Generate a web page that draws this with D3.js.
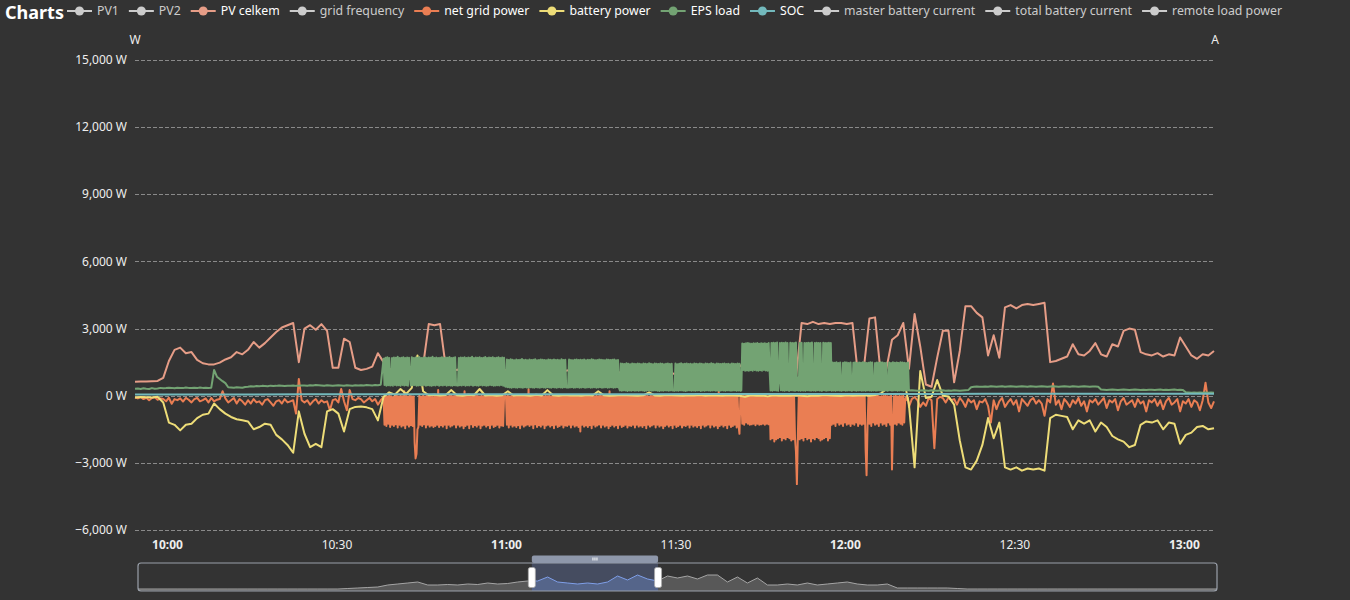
<!DOCTYPE html>
<html>
<head>
<meta charset="utf-8">
<script src="https://cdn.jsdelivr.net/npm/d3@7"></script>
<style>
	html, body { margin: 0; padding: 0; background: #333; }
	svg { display: block; font-family: "Noto Sans", sans-serif; }
</style>
</head>
<body>
<svg id="chart" width="1350" height="600"></svg>
<script>
(function() {
	"use strict"

	var startTime = new Date(2024, 0, 1, 9, 54, 20),
		burstStart = new Date(2024, 0, 1, 10, 38, 20),
		lateStart = new Date(2024, 0, 1, 12, 11, 50),
		endTime = new Date(2024, 0, 1, 13, 5, 20);

	var legendNames = ["PV1", "PV2", "PV celkem", "grid frequency", "net grid power", "battery power", "EPS load", "SOC", "master battery current", "total battery current", "remote load power"],
		legendColors = ["#dd6b66", "#759aa0", "#e69d87", "#8dc1a9", "#ea7e53", "#eedd78", "#73a373", "#73b9bc", "#7289ab", "#91ca8c", "#f49f42"],
		legendActive = [false, false, true, false, true, true, true, true, false, false, false];

	var yTicks = [-6000, -3000, 0, 3000, 6000, 9000, 12000, 15000],
		xTickLabels = ["10:00", "10:30", "11:00", "11:30", "12:00", "12:30", "13:00"];

	// one sample per minute from startTime
	var pvCelkem = [
		620, 630, 640, 650, 660, 800, 1550, 2050, 2150, 1900,
		1950, 1600, 1450, 1400, 1400, 1480, 1620, 1720, 1950, 1850,
		2050, 2400, 2150, 2350, 2600, 2850, 3050, 3150, 3250, 1500,
		3000, 3150, 2950, 3200, 2900, 1250, 1250, 2550, 2400, 1250,
		1150, 1200, 1300, 1900, 1500, 1200, 1150, 1250, 1200, 1300,
		1250, 1350, 3200, 3150, 3200, 1300, 1200, 1150, 1250, 1200,
		1150, 1200, 1250, 1100, 1150, 1200, 1100, 1150, 1100, 1200,
		1150, 1100, 1200, 1150, 1100, 1050, 1100, 1150, 1100, 1050,
		1100, 1050, 1000, 1050, 1100, 1000, 1050, 1000, 950, 1000,
		1050, 1000, 950, 1000, 1050, 1000, 950, 1000, 1050, 1000,
		950, 1000, 1050, 1000, 950, 1000, 1050,
		1300, 1500, 1550, 1500, 1450, 1500, 900, 800, 850, 800,
		800, 3250, 3200, 3300, 3200, 3250, 3200, 3250, 3250, 3200,
		3250, 900, 1200, 3450, 3500, 1000, 1200, 2500, 2700, 3250,
		1200, 3650, 2200, 500, 400, 1700, 2900, 2900, 600, 2000,
		4000, 4000, 3700, 3500, 1800, 2700, 1700, 3950, 4050, 3900,
		4050, 4100, 4050, 4100, 4150, 1500, 1550, 1650, 1750, 2300,
		1850, 1800, 2000, 2350, 1850, 1750, 2300, 2200, 2900, 3000,
		2950, 1950, 1850, 1800, 1900, 1750, 1850, 1800, 2600, 2200,
		1800, 1650, 1850, 1800, 2000
	];

	var batteryPower = [
		-80, -60, -70, -80, -50, -300, -1200, -1300, -1550, -1300,
		-1250, -1000, -850, -800, -350, -600, -800, -950, -1050, -1100,
		-1150, -1500, -1400, -1250, -1300, -1750, -1950, -2200, -2550, -700,
		-1700, -2300, -2150, -2300, -700, -600, -800, -1600, -600, -500,
		-480, -520, -600, -1100, -50, 150, 50, 300, 80, 350,
		1800, 200, 20, 40, 10, 30, 250, 20, 0, 40,
		20, 300, 10, 30, 0, 20, 200, 10, 30, 20,
		0, 40, 10, 250, 20, 0, 30, 10, 20, 0,
		30, 10, 200, 20, 0, 10, 30, 20, 10, 0,
		20, 150, 10, 0, 30, 20, 10, 0, 20, 10,
		30, 0, 20, 10, 0, 20, 10,
		0, -50, 20, 0, 10, -30, 20, 0, 10, 0,
		20, 0, -20, 10, 0, 30, 10, 0, -10, 20,
		0, 10, 20, 0, 30, 100, 300, 800, 1450, 900,
		-400, -3200, 1100, -100, -50, 700, 0, -30, -400, -2000,
		-3200, -3300, -2900, -2200, -1000, -1900, -1200, -3200, -3300, -3200,
		-3350, -3250, -3300, -3250, -3350, -1000, -850, -900, -950, -1500,
		-1100, -1250, -1100, -1600, -1200, -1400, -1800, -1950, -2050, -2300,
		-2200, -1300, -1150, -1200, -1100, -1500, -1200, -1250, -2150, -1750,
		-1650, -1400, -1350, -1500, -1450
	];

	// EPS load: 30 s samples before the burst, 10 s during it, 30 s after
	var epsLoadEarly = [
		310, 320, 300, 330, 310, 300, 340, 310, 320, 350, 330, 340, 360, 350, 330, 360, 350, 340, 370, 350,
		350, 360, 340, 370, 350, 360, 340, 360, 1150, 850, 750, 650, 560, 380, 370, 360, 380, 370, 360, 390,
		400, 420, 410, 430, 420, 440, 430, 420, 450, 430, 440, 460, 450, 430, 440, 450, 460, 440, 450, 460,
		460, 450, 470, 460, 480, 470, 460, 450, 470, 460, 450, 460, 470, 460, 450, 470, 460, 450, 470, 460,
		470, 460, 480, 470, 460, 480, 470, 490
	];
	var epsLoadBurst = [
		1650, 480, 1700, 450, 1720, 470, 1690, 460, 470, 1680, 450, 1710, 480, 1700, 460, 1740, 470, 1690, 450, 1700, 480, 1720, 460, 1680, 470, 1710, 450, 1700, 900, 460,
		1720, 470, 1690, 480, 1710, 450, 1700, 460, 1730, 470, 1680, 460, 1700, 480, 1720, 450, 1690, 470, 1710, 460, 1700, 440, 1740, 470, 1690, 460, 1710, 480, 1680, 450,
		1700, 470, 1720, 460, 1690, 480, 1710, 450, 1700, 470, 1730, 460, 1680, 450, 1700, 470, 1720, 460, 480, 450, 1690, 470, 1710, 460, 1700, 480, 1720, 450, 1690, 470,
		1710, 460, 1700, 480, 1740, 450, 1690, 470, 1710, 460, 1700, 450, 1720, 480, 1680, 460, 1700, 470, 1730, 450, 1690, 460, 1710, 480, 1700, 470, 1720, 450, 1690, 460,
		1700, 470, 1720, 460, 1690, 480, 1710, 450, 1700, 420, 400, 1620, 380, 1600, 370, 1630, 360, 1610, 380, 1590, 370, 1620, 360, 1600, 380, 1610, 370, 1640, 360, 1600,
		380, 1610, 370, 1590, 360, 1620, 380, 1600, 370, 1610, 360, 1630, 380, 1590, 370, 1600, 360, 1620, 380, 1610, 370, 1600, 360, 1590, 380, 1620, 370, 1610, 360, 1600,
		380, 1620, 370, 1600, 360, 1610, 380, 1590, 370, 1630, 360, 1600, 380, 1610, 370, 380, 360, 1620, 370, 1600, 380, 1590, 360, 1610, 370, 1620, 380, 1600, 360, 1610,
		370, 1600, 380, 1620, 360, 1590, 370, 1610, 380, 1600, 360, 1630, 370, 1610, 380, 1590, 360, 1600, 370, 1620, 380, 1610, 360, 1600, 370, 1590, 380, 1620, 360, 1610,
		370, 1600, 380, 1610, 360, 1620, 370, 1590, 380, 1600, 360, 230, 1440, 220, 1430, 240, 1420, 230, 1450, 210, 1430, 230, 1410, 220, 1440, 240, 1430, 220, 1420, 230,
		1440, 220, 1430, 240, 1410, 230, 1440, 210, 1430, 220, 1420, 240, 1450, 230, 1430, 220, 1410, 230, 1440, 240, 1430, 220, 1420, 210, 1440, 230, 1430, 220, 1410, 240,
		1430, 230, 1440, 220, 1420, 240, 1430, 230, 240, 220, 1440, 230, 1410, 220, 1430, 240, 1450, 230, 1420, 220, 1430, 210, 1440, 230, 1420, 240, 1430, 220, 1410, 230,
		1440, 220, 1430, 230, 1420, 240, 1440, 210, 1430, 230, 1410, 220, 1440, 240, 1430, 230, 1420, 220, 1450, 230, 1430, 240, 1410, 220, 1440, 230, 1430, 210, 1420, 240,
		1430, 230, 1440, 220, 1420, 240, 1430, 230, 1410, 220, 1440, 230, 1430, 240, 1420, 220, 1440, 230, 1430, 220, 240, 2330, 1150, 2320, 1120, 2340, 1130, 2350, 1120, 2330,
		1140, 2320, 1120, 2340, 1150, 2330, 1130, 2350, 1120, 2320, 1140, 2340, 1120, 2330, 1150, 2340, 1130, 2320, 1120, 2350, 1140, 230, 2360, 220, 2370, 240, 2350, 230, 2380, 220,
		700, 2360, 240, 2370, 230, 2350, 220, 2380, 240, 2360, 230, 220, 2370, 240, 2350, 230, 2360, 220, 2380, 240, 800, 230, 2360, 220, 2370, 240, 230, 2350, 220, 2360,
		240, 2370, 230, 2350, 220, 2380, 240, 230, 2360, 220, 2370, 240, 2350, 230, 2360, 220, 230, 2370, 240, 2350, 220, 2360, 230, 2370, 240, 2350, 220, 1480, 230, 1470,
		220, 1490, 240, 1460, 230, 1480, 220, 230, 1470, 240, 1490, 220, 1480, 230, 1460, 240, 1480, 220, 230, 1470, 240, 1490, 220, 1460, 230, 1480, 240, 1470, 220, 1490,
		230, 1480, 220, 1460, 240, 1470, 230, 1490, 220, 1480, 230, 240, 1460, 220, 1480, 230, 1470, 240, 1490, 220, 1480, 230, 1460, 240, 1470, 220, 230, 1480, 240, 1460,
		220, 1490, 230, 1470, 240, 1480, 220, 1460, 230, 1490, 240, 1480, 220, 1470, 230, 1460, 240, 1480, 230
	];
	var epsLoadLate = [
		240, 230, 220, 230, 240,
		230, 220, 240, 230, 220, 230, 240, 220, 230, 220, 240, 230, 220, 230, 240, 250, 380, 400, 410, 400,
		400, 410, 400, 420, 410, 400, 410, 420, 400, 410, 420, 410, 400, 410, 420, 410, 400, 420, 410, 400,
		410, 420, 410, 400, 410, 420, 410, 400, 410, 420, 410, 400, 420, 410, 400, 410, 420, 410, 400, 410,
		410, 400, 280, 270, 260, 270, 280, 270, 260, 270, 280, 270, 260, 270, 280, 270, 260, 270, 260, 270,
		270, 260, 270, 280, 260, 270, 260, 270, 280, 260, 270, 260, 150, 140, 130, 140, 130, 140, 130, 140,
		130, 140, 130
	];

	// net grid power, same sampling as EPS load
	var netGridEarly = [
		-80, -120, -60, -150, -90, -200, -100, -70, -180, -120, -150, -250, -90, -360, -150, -200, -120, -260, -100, -180,
		-300, -150, -100, -250, -200, -120, -300, -100, -250, -180, -150, 200, -120, -300, -200, -100, -350, -150, -250, -400,
		-200, -350, -150, -300, -250, -400, -200, -150, -300, -450, -250, -200, -350, -150, -300, -250, -200, -800, 750, -200,
		-300, -200, -400, -250, -150, -350, -200, -300, -250, -650, -200, -150, -300, 300, -250, -650, 250, -150, -200, -100,
		-150, -300, -200, -100, -250, -150, -400, -200
	];
	var netGridBurst = [
		-50, -1300, 20, -1350, -30, -1250, 50, -1400, -20, -1300, -60, -1350, 0, -1280, 30, -1420, -40, -1300, 10, -1380, -20, -1330, 200, -1450, -10, -1300, -30, -1380, 0, -1320,
		-20, -1350, -30, -2100, -2800, -2600, -1500, -1400, 20, -1300, -50, -1350, 0, -1280, -40, -1420, 30, -1300, -20, -1380, 10, -1330, -60, -1400, 0, -1350, -20, -1300, 250, -1400,
		0, -1320, -50, -1380, 10, -1300, -20, -1450, -30, -1300, 20, -1380, 0, -1330, -20, -1290, 20, -1420, -10, -1300, -30, -1380, 0, -1330, -20, -1450, 200, -1350, -20, -1300,
		10, -1450, -30, -1280, 0, -1400, -20, -1320, 30, -1380, -10, -1300, -40, -1450, 0, -1330, -20, -1300, 10, -1380, -30, -1320, 0, -1450, -20, -1300, 20, -1400, -10, -1350,
		-30, -1300, 0, -1420, -20, -1330, 10, -1350, -20, -10, -30, -1300, 0, -1420, -30, -1300, 10, -1380, -20, -1330, -40, -1400, 0, -1320, 20, -1450, -10, -1300, -30, -1380,
		0, -1330, -20, -1290, 300, -1350, -20, -1300, 10, -1450, -30, -1280, 0, -1400, -20, -1320, 30, -1380, -10, -1300, -40, -1450, 0, -1330, -20, -1300, 10, -1380, -30, -1320,
		0, -1450, -20, -1300, 20, -1400, -10, -1350, -30, -1300, 0, -1420, -20, -1330, 10, -1350, -20, -1300, 0, -1420, -30, -1300, 10, -1380, -20, -1330, -40, -1400, 0, -1600,
		-30, -1300, 10, -1380, -20, -1330, -40, -1400, 0, -1320, 20, -1450, -10, -1300, -30, -1380, 0, -1330, -20, -1290, 20, -1420, -10, -1300, -30, -1380, 0, -1330, -20, -1450,
		200, -1350, -20, -1300, 10, -1380, -30, -1320, 0, -1450, -20, -1300, 20, -1400, -10, -1350, -30, -1300, 0, -1420, -20, -1330, 10, -1350, -20, -1300, 0, -1420, -30, -1300,
		10, -1380, -20, -1330, -40, -1400, 0, -1320, 20, -1450, -10, -1300, -30, -1380, 0, -1330, -20, -1290, 20, -1420, -10, -1300, -30, -1380, 0, -1330, -20, -1450, 30, -1350,
		-20, -1300, 10, -1380, -30, -1320, 0, -1450, -20, -1300, 20, -1400, -10, -1350, -30, -1300, 0, -1420, -20, -1330, 10, -1350, -20, -1300, 0, -1420, -30, -1300, 10, -1380,
		-20, -1330, -40, -1400, 0, -1320, 20, -1450, -10, -1300, -30, -1380, 0, -1330, -20, -1290, 20, -1420, -10, -1300, -30, -1380, 0, -1330, -20, -1450, 200, -1350, -20, -1300,
		10, -1380, -30, -1320, 0, -1450, -20, -1300, 20, -1400, -10, -1350, -30, -1300, 0, -1420, -20, -1330, -1700, -30, -20, -1250, -20, -1300, -10, -1200, 0, -1250, -20, -1300,
		-10, -1280, 0, -1250, -30, -1320, -10, -1250, -20, -1300, 0, -1280, -20, -1250, -10, -1300, 0, -1250, -30, -1280, -10, -1950, -30, -1900, -10, -2050, -20, -1950, 0, -1900,
		-40, -1850, -20, -2000, -10, -1900, -30, -1950, 0, -1850, -20, -1900, -40, -2000, -10, -1950, -30, -1900, -2500, -3950, -1800, -20, -1950, -10, -1900, -30, -2000, 0, -1850, -20,
		-1950, -40, -1900, -20, -2050, -10, -1900, -30, -1950, 0, -1850, -20, -1900, -40, -2000, -10, -1950, -30, -1900, 0, -1850, -20, -2000, -30, -1900, -10, -1300, -20, -1250, 0,
		-1350, -30, -1200, -10, -1300, -20, -1250, 0, -1350, -40, -1200, -20, -1300, -10, -1250, -30, -1350, 0, -1250, -20, -1300, -10, -1200, 0, -1350, -30, -1250, -20, -1300, -10,
		-1250, 0, -2400, -3550, -1400, -30, -1250, 0, -1350, -20, -1200, -40, -1300, -10, -1250, 0, -1350, -30, -1200, -20, -1300, -10, -1250, 0, -1350, -20, -1200, -30, -1300, 0,
		-3300, -1350, -20, -1250, 0, -1300, -30, -1200, -10, -1250, -20, -1300, 0, -1200, -150, -60, -200, -100, -500
	];
	var netGridLate = [
		-150, -60, -200, -500, -300,
		-450, -100, -200, -2350, -150, -50, -100, -300, -80, -200, -150, -400, -100, -250, -500, -150, -300, -200, -600, -250,
		-300, -150, -450, -1200, -200, -600, -250, -100, -500, -300, -150, -400, -200, -700, -150, -300, -450, -200, -100, -350,
		-200, -350, -900, -150, -300, 550, -400, -200, -600, -150, -300, -500, -200, -350, -100, -450, -250, -700, -200, -300,
		-150, -400, -250, -100, -550, -200, -300, -150, -650, -250, -100, -400, -300, -200, -500, -150, -350, -250, -700, -200,
		-300, -150, -450, -200, -600, -250, -100, -400, -300, -150, -700, -250, -350, -150, -500, -200, -300, -650, -200, 580,
		-300, -550, -250
	];

	// state of charge, %, spread over the whole range
	var soc = [52, 54, 57, 60, 63, 65, 66, 68, 70, 71, 72, 73, 75, 77, 80, 83, 86, 88, 90, 91];

	// data zoom overview shadow, across the whole slider
	var overviewShadow = [
		2, 2, 2, 2, 2, 2, 2, 2, 2, 2, 2, 2, 2, 2, 2, 2, 2, 2, 2, 2,
		2, 2.5, 3, 3.5, 4, 6, 7, 8, 9, 6, 6, 6.5, 6, 7, 6.5, 8, 7, 7.5, 9, 10,
		10, 14, 9, 8, 7, 8, 7, 9, 15, 11, 16, 12,
		10, 15, 13, 15, 12, 16, 16, 9, 14, 8, 13, 6, 6, 7, 6, 8, 6, 7, 8, 9, 7, 6, 6, 7,
		3, 3, 3, 3, 3, 3, 2.5, 2, 2, 2, 2, 2, 2, 2, 2, 2, 2, 2, 2, 2, 2, 2, 2, 2, 2, 2, 2, 2, 2, 2, 2, 2, 2
	];
	var zoomWindow = [36.5, 48.2];

	function samples(start, stepSeconds, values) {
		return values.map(function(v, i) {
			return { t: new Date(+start + i * stepSeconds * 1000), v: v };
		});
	}

	var series = [
		{ values: samples(startTime, 60, pvCelkem), color: legendColors[2] },
		{ values: samples(startTime, 30, netGridEarly).concat(samples(burstStart, 10, netGridBurst), samples(lateStart, 30, netGridLate)), color: legendColors[4] },
		{ values: samples(startTime, 60, batteryPower), color: legendColors[5] },
		{ values: samples(startTime, 30, epsLoadEarly).concat(samples(burstStart, 10, epsLoadBurst), samples(lateStart, 30, epsLoadLate)), color: legendColors[6] },
		{ values: samples(startTime, (endTime - startTime) / 1000 / (soc.length - 1), soc), color: legendColors[7] }
	];

	var svg = d3.select("#chart"),
		left = 135, right = 1214, top = 60, bottom = 530;

	var x = d3.scaleTime().domain([startTime, endTime]).range([left, right]),
		y = d3.scaleLinear().domain([-6000, 15000]).range([bottom, top]);

	svg.append("rect").attr("width", 1350).attr("height", 600).attr("fill", "#333");

	// grid + y labels
	svg.append("g")
		.selectAll("line")
		.data(yTicks)
		.enter()
		.append("line")
			.attr("x1", left)
			.attr("x2", right)
			.attr("y1", function(d) { return Math.round(y(d)) + 0.5; })
			.attr("y2", function(d) { return Math.round(y(d)) + 0.5; })
			.attr("stroke", "#8a8a8a")
			.attr("stroke-dasharray", "4,2");

	svg.append("g")
		.selectAll("text")
		.data(yTicks)
		.enter()
		.append("text")
			.attr("x", 127)
			.attr("y", function(d) { return y(d); })
			.attr("dy", "0.35em")
			.attr("text-anchor", "end")
			.attr("fill", "#eee")
			.style("font-size", "12px")
			.text(function(d) { return d3.format(",")(d) + " W"; });

	svg.append("text").attr("x", left).attr("y", 44).attr("text-anchor", "middle")
		.attr("fill", "#eee").style("font-size", "12px").text("W");
	svg.append("text").attr("x", right + 1).attr("y", 44).attr("text-anchor", "middle")
		.attr("fill", "#eee").style("font-size", "12px").text("A");

	// x axis
	var parseHM = d3.timeParse("%H:%M"),
		tickDates = xTickLabels.map(function(s) {
			var p = parseHM(s);
			return new Date(2024, 0, 1, p.getHours(), p.getMinutes());
		});

	var xAxis = svg.append("g")
		.attr("transform", "translate(0," + bottom + ")")
		.call(d3.axisBottom(x).tickValues(tickDates).tickSize(0).tickPadding(10)
			.tickFormat(function(d, i) { return xTickLabels[i]; }));
	xAxis.select(".domain").remove();
	xAxis.selectAll("text")
		.attr("fill", "#eee")
		.style("font-family", "\"Noto Sans\", sans-serif")
		.style("font-size", "12px")
		.style("font-weight", function(d) { return d.getMinutes() === 0 ? "bold" : "normal"; });

	// series lines
	var line = d3.line()
		.x(function(d) { return x(d.t); })
		.y(function(d) { return y(d.v); });

	series.forEach(function(s) {
		svg.append("path")
			.datum(s.values)
			.attr("d", line)
			.attr("fill", "none")
			.attr("stroke", s.color)
			.attr("stroke-width", 2)
			.attr("stroke-linejoin", "round");
	});

	// title and legend
	svg.append("text").attr("x", 5).attr("y", 19).attr("fill", "#fff")
		.style("font-size", "18px").style("font-weight", "bold").text("Charts");

	var legendX = 67,
		legend = svg.append("g");
	legendNames.forEach(function(name, i) {
		var c = legendActive[i] ? legendColors[i] : "#ccc",
			g = legend.append("g").attr("transform", "translate(" + legendX + ",11)");
		g.append("line").attr("x1", 0).attr("x2", 25).attr("stroke", c).attr("stroke-width", 2);
		g.append("circle").attr("cx", 12.5).attr("r", 4.5).attr("fill", c);
		var t = g.append("text")
			.attr("x", 30)
			.attr("dy", "0.35em")
			.attr("fill", legendActive[i] ? "#fff" : "#ccc")
			.style("font-size", "12.3px")
			.text(name);
		legendX += 30 + t.node().getComputedTextLength() + 10;
	});

	// data zoom slider
	var sx0 = 138, sx1 = 1217, sy0 = 563, sy1 = 591,
		sx = d3.scaleLinear().domain([0, overviewShadow.length - 1]).range([sx0, sx1]),
		sy = d3.scaleLinear().domain([0, 28]).range([sy1, sy0]),
		w0 = sx0 + (sx1 - sx0) * zoomWindow[0] / 100,
		w1 = sx0 + (sx1 - sx0) * zoomWindow[1] / 100;

	var shadowArea = d3.area()
			.x(function(d, i) { return sx(i); })
			.y0(sy1)
			.y1(function(d) { return sy(d); }),
		shadowLine = d3.line()
			.x(function(d, i) { return sx(i); })
			.y(function(d) { return sy(d); });

	svg.append("clipPath").attr("id", "win")
		.append("rect").attr("x", w0).attr("y", sy0).attr("width", w1 - w0).attr("height", sy1 - sy0);

	svg.append("path").datum(overviewShadow).attr("d", shadowArea).attr("fill", "#585858");
	svg.append("path").datum(overviewShadow).attr("d", shadowLine)
		.attr("fill", "none").attr("stroke", "#a5a5a5").attr("stroke-width", 1);

	svg.append("rect").attr("x", w0).attr("y", sy0).attr("width", w1 - w0).attr("height", sy1 - sy0)
		.attr("fill", "#454c60");
	svg.append("path").datum(overviewShadow).attr("d", shadowArea).attr("clip-path", "url(#win)")
		.attr("fill", "#55658a");
	svg.append("path").datum(overviewShadow).attr("d", shadowLine).attr("clip-path", "url(#win)")
		.attr("fill", "none").attr("stroke", "#7f9fe8").attr("stroke-width", 1);

	svg.append("rect").attr("x", sx0).attr("y", sy0).attr("width", sx1 - sx0).attr("height", sy1 - sy0)
		.attr("rx", 3).attr("fill", "none").attr("stroke", "#9aa0aa").attr("stroke-width", 1.2);

	svg.append("rect").attr("x", w0).attr("y", 555.5).attr("width", w1 - w0).attr("height", 7.5)
		.attr("rx", 2).attr("fill", "#8e97aa");
	[-2, 0, 2].forEach(function(o) {
		svg.append("line").attr("x1", (w0 + w1) / 2 + o).attr("x2", (w0 + w1) / 2 + o)
			.attr("y1", 557.5).attr("y2", 560.5).attr("stroke", "#fff").attr("stroke-width", 1);
	});

	[w0, w1].forEach(function(hx) {
		svg.append("rect").attr("x", hx - 3.5).attr("y", 567.5).attr("width", 7).attr("height", 20)
			.attr("rx", 2).attr("fill", "#fff").attr("stroke", "#aaa").attr("stroke-width", 0.8);
	});
})();
</script>
</body>
</html>
